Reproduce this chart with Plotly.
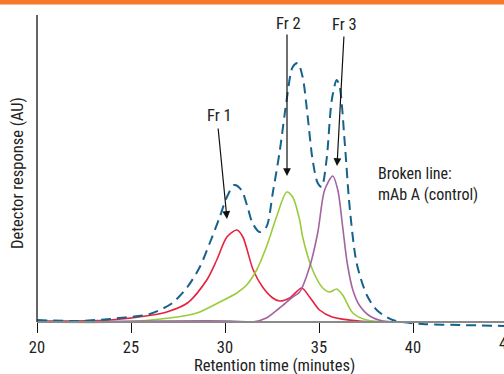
import plotly.graph_objects as go

# Control (mAb A) - broken line
ctrl_x = [20.0, 22.1, 23.9, 24.4, 26.0, 27.2, 28.0, 28.66, 29.19, 29.72, 30.1, 30.5, 30.87, 31.2, 31.46, 31.84,
          32.2, 32.54, 32.92, 33.28, 33.6, 33.87, 34.13, 34.4, 34.66, 34.93, 35.14, 35.4, 35.68, 35.94, 36.1,
          36.37, 36.63, 37.0, 37.54, 38.07, 38.92, 40.5, 42.5, 44.9]
ctrl_y = [2, 1, 3, 4, 8, 19, 35, 55, 79, 105, 125, 137, 132, 115, 99, 90,
          95, 129, 172, 222, 255, 259, 245, 205, 162, 139, 135, 162, 222, 242, 235,
          179, 115, 59, 27, 12, 2, -2, -3, -4]

# Fraction 1
fr1_x = [20.0, 23.9, 26.15, 26.9, 28.0, 29.03, 29.56, 30.1, 30.63, 30.95, 31.5, 32.0, 32.54, 32.9, 33.44,
         34.08, 34.5, 35.03, 35.7, 37.14, 39.3, 44.9]
fr1_y = [1, 2, 7, 10, 19, 42, 62, 85, 92, 85, 52, 35, 24, 21, 24,
         34, 25, 12, 5, 1, 0, 0]

# Fraction 2
fr2_x = [20.0, 24.4, 27.05, 28.5, 29.72, 30.63, 31.15, 31.68, 32.2, 32.74, 33.28, 33.6, 33.97, 34.13, 34.66,
         35.2, 35.57, 35.94, 36.26, 36.8, 37.54, 39.3, 44.9]
fr2_y = [0, 0, 4, 9, 20, 29, 37, 52, 75, 105, 130, 125, 102, 85, 52,
         34, 30, 33, 27, 9, 2, 0, 0]

# Fraction 3
fr3_x = [20.0, 30.25, 31.47, 32.2, 32.9, 33.6, 33.97, 34.5, 34.93, 35.3, 35.73, 36.0, 36.26, 36.5, 36.8,
         37.14, 37.7, 38.4, 39.3, 44.9]
fr3_y = [0, 1, 0, 4, 14, 25, 30, 55, 89, 132, 146, 132, 95, 59, 32,
         17, 6, 1, 0, 0]

x_ticks = [20, 25, 30, 35, 40]

fig = go.Figure()
fig.add_trace(go.Scatter(x=fr1_x, y=fr1_y, mode="lines", line=dict(color="#e8213f", width=1.6, shape="spline", smoothing=0.8)))
fig.add_trace(go.Scatter(x=fr2_x, y=fr2_y, mode="lines", line=dict(color="#9bcb3b", width=1.6, shape="spline", smoothing=0.8)))
fig.add_trace(go.Scatter(x=fr3_x, y=fr3_y, mode="lines", line=dict(color="#a3639f", width=1.6, shape="spline", smoothing=0.8)))
fig.add_trace(go.Scatter(x=ctrl_x, y=ctrl_y, mode="lines",
                         line=dict(color="#16628c", width=2, dash="10px,6px", shape="spline", smoothing=0.8)))

FONT = "Liberation Sans Narrow, Roboto Condensed, Roboto, sans-serif"
FS = 16.5
T, B, L = 15, 44, 37
H = 374 - T - B  # 315

fig.update_layout(
    width=504, height=374,
    margin=dict(l=L, r=0, t=T, b=B),
    paper_bgcolor="white", plot_bgcolor="white",
    showlegend=False,
    font=dict(family=FONT, size=FS, color="#222"),
    xaxis=dict(range=[20, 44.84], tickvals=x_ticks, ticks="outside", ticklen=10, tickcolor="#111",
               tickwidth=1.3, showline=True, linecolor="#8a8a8a", linewidth=1.5, showgrid=False,
               zeroline=False, anchor="free", position=8 / H, tickfont=dict(size=FS, family=FONT)),
    yaxis=dict(range=[-8, 307], showticklabels=False, ticks="", showgrid=False, zeroline=False,
               showline=False),
)

# y axis line
fig.add_shape(type="line", xref="paper", yref="y", x0=0, x1=0, y0=0, y1=307,
              line=dict(color="#333", width=1.5))
# orange top bar
fig.add_shape(type="rect", xref="paper", yref="paper", x0=-0.1, x1=1.01,
              y0=(H + T - 4) / H, y1=(H + T + 2) / H, fillcolor="#f47a2a", line=dict(width=0))
fig.add_shape(type="rect", xref="paper", yref="paper", x0=-0.1, x1=1.01,
              y0=(H + T - 5) / H, y1=(H + T - 4) / H, fillcolor="#f9b98a", line=dict(width=0))

ann = []
# 45 tick label partly cut off
ann.append(dict(x=(507 - L) / 467, y=(H - 343 + T) / H, xref="paper", yref="paper", text="45",
                showarrow=False, font=dict(size=FS), xanchor="center", yanchor="middle"))
# titles
ann.append(dict(x=(274 - L) / 467, y=(H + T - 365) / H, xref="paper", yref="paper",
                text="Retention time (minutes)", showarrow=False, font=dict(size=FS),
                xanchor="center", yanchor="middle"))
ann.append(dict(x=(17 - L) / 467, y=(H + T - 173) / H, xref="paper", yref="paper",
                text="Detector response (AU)", showarrow=False, textangle=-90, font=dict(size=FS),
                xanchor="center", yanchor="middle"))
# fraction labels
labels = [("Fr 1", 219, 116, 218, 127, 227, 219),
          ("Fr 2", 288, 23, 287, 33, 287, 176),
          ("Fr 3", 344, 24, 344, 35, 337, 166)]
for txt, tx, ty, sx, sy, ex, ey in labels:
    ann.append(dict(x=(tx - L) / 467, y=(H + T - ty) / H, xref="paper", yref="paper", text=txt,
                    showarrow=False, font=dict(size=FS), xanchor="center", yanchor="middle"))
    ann.append(dict(x=(ex - L) / 467, y=(H + T - ey) / H, xref="paper", yref="paper", text="",
                    ax=sx - ex, ay=sy - ey, axref="pixel", ayref="pixel",
                    showarrow=True, arrowhead=2, arrowsize=1.3, arrowwidth=1.2, arrowcolor="#111"))
ann.append(dict(x=(376 - L) / 467, y=(H + T - 184) / H, xref="paper", yref="paper",
                text="Broken line:<br>mAb A (control)", showarrow=False, align="left",
                font=dict(size=FS - 0.5), xanchor="left", yanchor="middle"))
fig.update_layout(annotations=ann)

fig.write_html("out.html")
